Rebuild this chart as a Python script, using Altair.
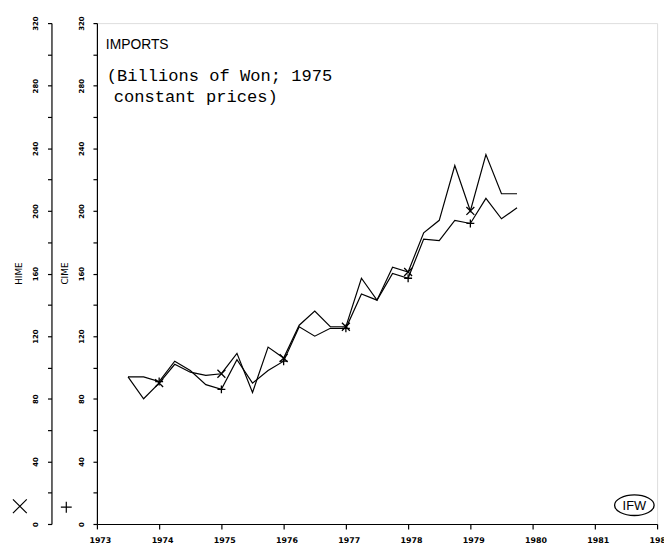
import altair as alt
import pandas as pd

# quarterly time points
quarters = [1973.5, 1973.75, 1974.0, 1974.25, 1974.5, 1974.75, 1975.0, 1975.25, 1975.5, 1975.75,
            1976.0, 1976.25, 1976.5, 1976.75, 1977.0, 1977.25, 1977.5, 1977.75, 1978.0, 1978.25,
            1978.5, 1978.75, 1979.0, 1979.25, 1979.5, 1979.75]
hime = [94, 80, 90, 102, 97, 95, 96, 109, 84, 113, 106, 127, 136, 126, 126, 157, 143, 164, 161, 186,
        194, 229, 200, 236, 211, 211]
cime = [94, 94, 91, 104, 98, 89, 86, 105, 90, 98, 104, 126, 120, 125, 125, 147, 143, 160, 157, 182,
        181, 194, 192, 208, 195, 202]

x_ticks = [1973 + 0.5 * i for i in range(19)]
y_ticks = list(range(0, 321, 20))

title_1 = "IMPORTS"
title_2 = "(Billions of Won; 1975"
title_3 = "constant prices)"
logo = "IFW"

df = pd.DataFrame({"t": quarters, "HIME": hime, "CIME": cime})

X_PATH = "M -1 -1 L 1 1 M -1 1 L 1 -1"
P_PATH = "M -1 0 L 1 0 M 0 -1 L 0 1"
ELL_PATH = "M -1 0 A 1 0.52 0 1 1 1 0 A 1 0.52 0 1 1 -1 0 Z"

xenc = alt.X("t:Q", scale=alt.Scale(domain=[1973, 1982], nice=False),
             axis=alt.Axis(values=x_ticks, format="d",
                           labelExpr="datum.value % 1 === 0 ? datum.label : ''",
                           tickSize=5, labelPadding=8, labelFontSize=8, labelOffset=3,
                           labelFont="DejaVu Sans", labelFontWeight="bold",
                           labelFlush=False, labelOverlap=False, labelBound=False,
                           grid=False, title=None,
                           domainColor="black", tickColor="black", labelColor="black",
                           domainWidth=1.2, tickWidth=1.2))


def yaxis(title, offset):
    return alt.Axis(values=y_ticks, orient="left", offset=offset, format="d",
                    labelExpr="datum.value % 40 === 0 ? datum.label : ''",
                    tickSize=4, labelPadding=9, labelFontSize=7, labelFont="DejaVu Sans",
                    labelFontWeight="bold", labelAngle=270, labelAlign="center",
                    labelBaseline="bottom", labelOverlap=False, labelFlush=False,
                    grid=False, title=title, titleAngle=270, titleX=-33, titleY=253,
                    titleAlign="center", titleBaseline="middle", titleFont="DejaVu Sans",
                    titleFontSize=9, titleFontWeight="normal", titleColor="black",
                    domainColor="black", tickColor="black", labelColor="black",
                    domainWidth=1.2, tickWidth=1.2)


yscale = alt.Scale(domain=[0, 320], nice=False, zero=False)

base = alt.Chart(df)

hime_line = base.mark_line(color="black", strokeWidth=1.2).encode(
    x=xenc, y=alt.Y("HIME:Q", scale=yscale, axis=yaxis("HIME", 46)))
hime_pts = base.transform_filter("datum.t % 1 === 0").mark_point(
    shape=X_PATH, size=64, color="black", strokeWidth=1.3, filled=False, opacity=1).encode(
    x=alt.X("t:Q"), y=alt.Y("HIME:Q", scale=yscale, axis=None))
cime_line = base.mark_line(color="black", strokeWidth=1.2).encode(
    x=alt.X("t:Q"), y=alt.Y("CIME:Q", scale=yscale, axis=yaxis("CIME", 0)))
cime_pts = base.transform_filter("datum.t % 1 === 0").mark_point(
    shape=P_PATH, size=64, color="black", strokeWidth=1.3, filled=False, opacity=1).encode(
    x=alt.X("t:Q"), y=alt.Y("CIME:Q", scale=yscale, axis=None))


def text_layer(s, x, y, font, size, align="left"):
    return alt.Chart(pd.DataFrame({"label": [s]})).mark_text(
        font=font, fontSize=size, align=align, baseline="alphabetic", color="black").encode(
        text="label:N", x=alt.value(x), y=alt.value(y))


t1 = text_layer(title_1, 9, 26, "Liberation Sans", 14)
t2 = text_layer(title_2, 10, 59, "Liberation Mono", 17.3)
t3 = text_layer(title_3, 17, 80, "Liberation Mono", 17.3)

one = pd.DataFrame({"k": [0]})
leg_x = alt.Chart(one).mark_point(shape=X_PATH, size=196, color="black", strokeWidth=1.2,
                                  filled=False, opacity=1).encode(x=alt.value(-78), y=alt.value(489))
leg_p = alt.Chart(one).mark_point(shape=P_PATH, size=121, color="black", strokeWidth=1.2,
                                  filled=False, opacity=1).encode(x=alt.value(-31), y=alt.value(490))
ell = alt.Chart(one).mark_point(shape=ELL_PATH, size=1600, color="black", strokeWidth=1.3,
                                filled=False, opacity=1).encode(x=alt.value(544), y=alt.value(488))
ifw = alt.Chart(pd.DataFrame({"label": [logo]})).mark_text(
    font="Liberation Sans", fontSize=13, align="center", baseline="middle", color="black").encode(
    text="label:N", x=alt.value(544), y=alt.value(489))

chart = alt.layer(hime_line, cime_line, hime_pts, cime_pts, t1, t2, t3, leg_x, leg_p, ell, ifw).resolve_scale(
    y="independent").properties(
    width=567, height=507,
    autosize=alt.AutoSizeParams(type="none"),
    padding={"left": 90, "top": 12, "right": 7, "bottom": 20},
).configure_view(stroke="black", strokeWidth=1.2).configure(background="white")

chart.save("out.html", embed_options={"renderer": "svg", "actions": False})
